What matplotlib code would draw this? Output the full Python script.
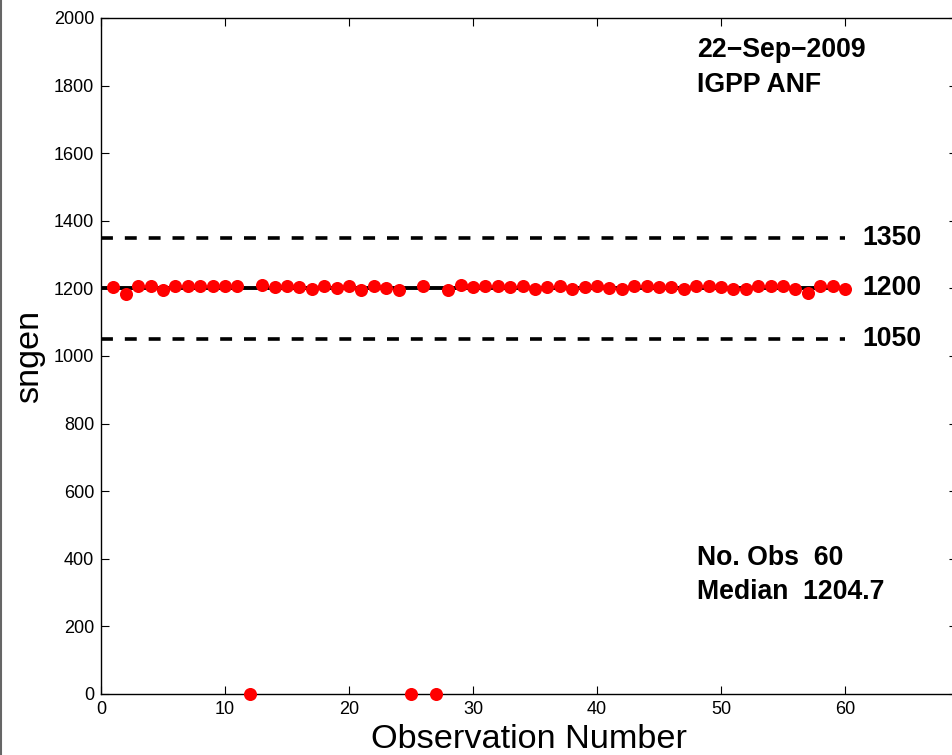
import matplotlib
matplotlib.use("Agg")
import matplotlib.pyplot as plt
from matplotlib.lines import Line2D

plt.rcParams['font.family'] = ['Liberation Sans', 'DejaVu Sans']

obs = list(range(1, 61))
sngen = [1205, 1183, 1207, 1207, 1196, 1207, 1206, 1208, 1208, 1206,
         1207, 0, 1210, 1205, 1206, 1205, 1197, 1208, 1200, 1206,
         1195, 1208, 1200, 1196, 0, 1206, 0, 1196, 1209, 1205,
         1208, 1206, 1204, 1208, 1197, 1204, 1207, 1199, 1204, 1206,
         1200, 1197, 1208, 1206, 1205, 1204, 1197, 1207, 1208, 1205,
         1197, 1197, 1208, 1206, 1207, 1197, 1187, 1207, 1207, 1197]
nominal = 1200
upper = 1350
lower = 1050
date_text = "22\u2212Sep\u22122009"
site_text = "IGPP ANF"
nobs_text = "No. Obs  60"
median_text = "Median  1204.7"
xticks = [0, 10, 20, 30, 40, 50, 60]
yticks = list(range(0, 2001, 200))

fig = plt.figure(figsize=(9.53, 7.55), dpi=100)
ax = fig.add_axes([101/953, 61/755, 855.6/953, 676/755])

ax.plot([0, 60], [nominal, nominal], color='black', lw=2.8, zorder=2)
ax.plot([0, 60], [upper, upper], color='black', lw=2.6, dashes=(3.3, 3.3), zorder=2)
ax.plot([0, 60], [lower, lower], color='black', lw=2.6, dashes=(3.3, 3.3), zorder=2)
ax.plot(obs, sngen, 'o', color='red', markersize=9.4, markeredgewidth=0,
        clip_on=False, zorder=3)

ax.set_xlim(0, 69)
ax.set_ylim(0, 2000)
ax.set_xticks(xticks)
ax.set_yticks(yticks)
ax.tick_params(direction='in', length=6, width=0.8, labelsize=13,
               top=True, right=True, pad=5)
for s in ax.spines.values():
    s.set_linewidth(1.0)

ax.set_xlabel("Observation Number", fontsize=24.7, labelpad=4)
ax.set_ylabel("sngen", fontsize=24.7, labelpad=6)

tk = dict(fontsize=19.2, fontweight='bold', va='center', ha='left')
ax.text(61.4, upper, str(upper), **tk)
ax.text(61.4, nominal, str(nominal), **tk)
ax.text(61.4, lower, str(lower), **tk)
ax.text(48.1, 1905, date_text, **tk)
ax.text(48.1, 1802, site_text, **tk)
ax.text(48.1, 402, nobs_text, **tk)
ax.text(48.1, 302, median_text, **tk)

fig.add_artist(Line2D([1.5/953, 1.5/953], [0, 1], color='#666666', lw=1.5))

fig.savefig("out.png", dpi=100)
